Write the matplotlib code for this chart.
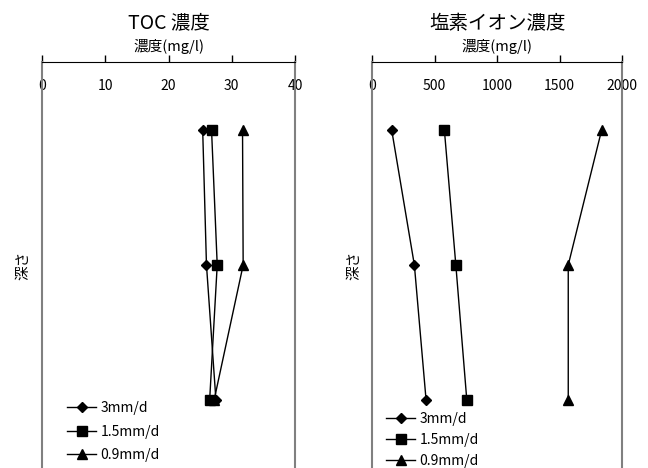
import numpy as np
import matplotlib
matplotlib.use('Agg')
import matplotlib.pyplot as plt

plt.rcParams['font.family'] = ['Noto Sans CJK JP', 'DejaVu Sans']

## depth positions (top to bottom)
depth = [1, 2, 3]
series_labels = ['3mm/d', '1.5mm/d', '0.9mm/d']
markers = ['D', 's', '^']
msizes = [5.5, 7, 7.5]

## values
toc = [[25.4, 26.0, 27.5],
       [26.8, 27.7, 26.5],
       [31.7, 31.8, 27.2]]
cl = [[155, 337, 431],
      [577, 669, 757],
      [1837, 1569, 1569]]

titles = ['TOC 濃度', '塩素イオン濃度']
xlims = [(0, 40), (0, 2000)]
xticks = [[0, 10, 20, 30, 40], [0, 500, 1000, 1500, 2000]]

fig = plt.figure(figsize=(6.48, 4.68), dpi=100, facecolor='w')
ax1 = fig.add_axes([0.0648, 0.0, 0.3905, 0.8675])
ax2 = fig.add_axes([0.5745, 0.0, 0.3855, 0.8675])

legend_pos = [((0.10, 0.014), 0.70), ((0.055, 0.0), 0.50)]

for ax, data, title, xl, xt, (anchor, lsp) in zip([ax1, ax2], [toc, cl], titles, xlims, xticks, legend_pos):
    for vals, lab, m, ms in zip(data, series_labels, markers, msizes):
        ax.plot(vals, depth, color='k', linewidth=1, marker=m, markersize=ms, label=lab)
    ax.set_xlim(*xl)
    ax.set_ylim(3.5, 0.5)
    ax.set_xticks(xt)
    ax.set_yticks([])
    ax.xaxis.tick_top()
    ax.tick_params(axis='x', direction='out', length=5, width=1, pad=-27, labelsize=10)
    ax.xaxis.set_label_position('top')
    ax.set_xlabel('濃度(mg/l)', fontsize=10.5, labelpad=3)
    ax.set_title(title, fontsize=14, pad=24)
    ax.set_ylabel('深さ', fontsize=10.5, labelpad=8)
    ax.spines['bottom'].set_visible(False)
    ax.spines['top'].set_color('k')
    ax.spines['left'].set_color('#808080')
    ax.spines['right'].set_color('#808080')
    ax.spines['left'].set_linewidth(1.5)
    ax.spines['right'].set_linewidth(1.5)
    ax.legend(loc='lower left', bbox_to_anchor=anchor, frameon=False, fontsize=10,
              handlelength=2.1, handletextpad=0.3, borderpad=0, borderaxespad=0,
              labelspacing=lsp)

fig.savefig('out.png', dpi=100)
